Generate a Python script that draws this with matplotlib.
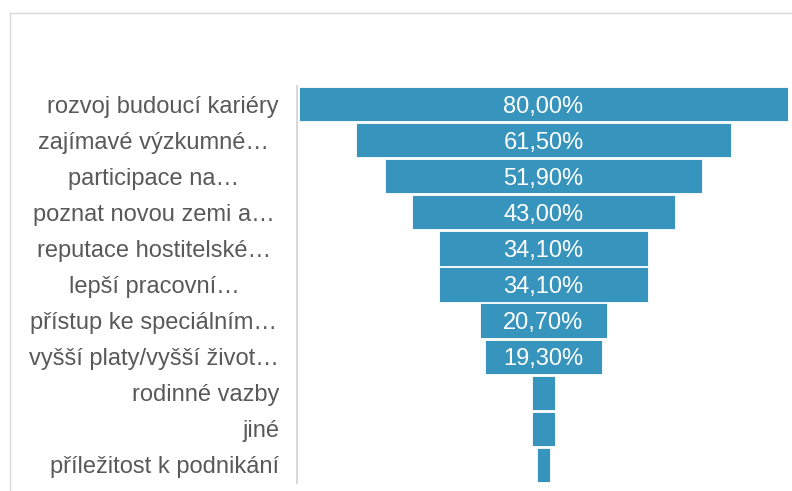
import matplotlib
matplotlib.use("Agg")
import matplotlib.pyplot as plt
from matplotlib.lines import Line2D
from matplotlib import transforms

categories = [
    "rozvoj budoucí kariéry",
    "zajímavé výzkumné…",
    "participace na…",
    "poznat novou zemi a…",
    "reputace hostitelské…",
    "lepší pracovní…",
    "přístup ke speciálním…",
    "vyšší platy/vyšší život…",
    "rodinné vazby",
    "jiné",
    "příležitost k podnikání",
]
values = [80.0, 61.5, 51.9, 43.0, 34.1, 34.1, 20.7, 19.3, 3.6, 3.6, 2.2]
value_labels = ["80,00%", "61,50%", "51,90%", "43,00%", "34,10%", "34,10%",
                "20,70%", "19,30%", "", "", ""]

plt.rcParams['font.family'] = ['Liberation Sans', 'DejaVu Sans']

W, H = 792, 491
fig = plt.figure(figsize=(W / 100, H / 100), dpi=100)
fig.patch.set_facecolor("white")

# outer chart frame (top and left edges visible)
fig.add_artist(Line2D([10 / W, 1.0], [1 - 13 / H, 1 - 13 / H], color="#d9d9d9", lw=1.0))
fig.add_artist(Line2D([10 / W, 10 / W], [1 - 13 / H, 0.0], color="#d9d9d9", lw=1.0))

ax = fig.add_axes([297 / W, 1 - 483 / H, (790 - 297) / W, (483 - 86) / H])

bar_color = "#3795bd"
y = list(range(len(categories)))
lefts = [-v / 2 for v in values]
ax.barh(y, values, left=lefts, height=0.95, color=bar_color,
        edgecolor="white", linewidth=0.6)

for yi, v, lab in zip(y, values, value_labels):
    if lab:
        ax.text(0, yi, lab, ha="center", va="center_baseline", color="white", fontsize=17)

ax.set_xlim(-40.33, 40.33)
ax.set_ylim(len(categories) - 0.5, -0.5)
ax.set_yticks(y)
ax.set_yticklabels([])
ax.tick_params(axis="y", length=0)
ax.set_xticks([])
for s in ["top", "right", "bottom"]:
    ax.spines[s].set_visible(False)
ax.spines["left"].set_color("#d9d9d9")
ax.spines["left"].set_linewidth(1.5)

# category labels: full labels right-aligned, truncated ones centred (Excel style)
trans = transforms.blended_transform_factory(fig.transFigure, ax.transData)
for yi, lab in zip(y, categories):
    if lab.endswith("…"):
        ax.text(154 / W, yi, lab, transform=trans, ha="center", va="center_baseline",
                fontsize=17, color="#595959")
    else:
        ax.text(279 / W, yi, lab, transform=trans, ha="right", va="center_baseline",
                fontsize=17, color="#595959")

fig.savefig("out.png", dpi=100)
